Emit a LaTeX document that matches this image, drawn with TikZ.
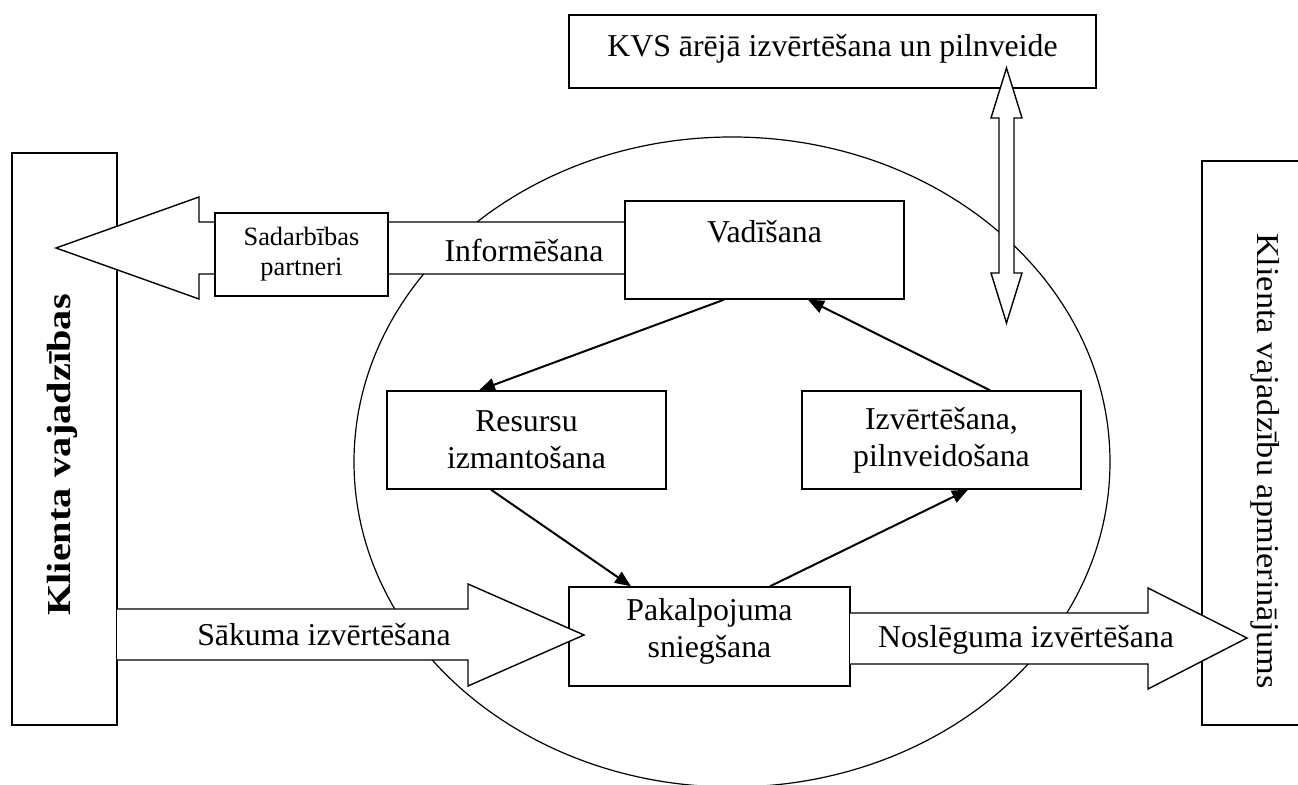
\documentclass[tikz,border=0pt]{standalone}
\usepackage{fontspec}
\setmainfont{Liberation Serif}
\usetikzlibrary{calc,arrows.meta}
\begin{document}
\begin{tikzpicture}[x=0.5pt,y=-0.5pt,
  box/.style={draw,line width=0.7pt,fill=white,inner sep=0pt,align=center,
    font=\fontsize{15.9pt}{18.5pt}\selectfont},
  smallbox/.style={box,font=\fontsize{13.2pt}{15pt}\selectfont},
  blk/.style={draw,line width=0.7pt,fill=white,line join=miter},
  conn/.style={line width=1pt,-{Triangle[length=8pt,width=6.5pt]}},
  lbl/.style={inner sep=0pt,align=center,font=\fontsize{15.9pt}{18.5pt}\selectfont}]
\useasboundingbox (0,0) rectangle (1298,785);
\clip (0,0) rectangle (1298,785);
% big ellipse
\draw[line width=0.6pt] (732,462) ellipse [x radius=378, y radius=325];
% side boxes
\node[box,minimum width=52.5pt,minimum height=286pt] (lb) at (64.5,439) {};
\node[box,minimum width=60pt,minimum height=282pt] (rb) at (1262,443) {};
\node[lbl,rotate=90,font=\fontsize{16.8pt}{19pt}\selectfont\bfseries] (lbt) at (62,455) {\scalebox{1.2}[1]{Klienta vajadzības}};
\node[lbl,rotate=-90] (rbt) at (1265,461) {\scalebox{1.08}[1]{Klienta vajadzību apmierinājums}};
% KVS box
\node[box,minimum width=263.5pt,minimum height=36.5pt] (kvs) at (832.5,51.5) {};
\node[lbl] (kvst) at ($(kvs)+(0,-3)$) {KVS ārējā izvērtēšana un pilnveide};
% Sadarbibas arrow
\draw[blk] (625,222) -- (199,222) -- (199,197) -- (56,248) -- (199,299) -- (199,274) -- (625,274);
\node[lbl] (inf) at (524,250) {Informēšana};
% Vadisana
\node[box,minimum width=139.5pt,minimum height=49pt] (vad) at (764.5,250) {};
\node[lbl] (vadt) at ($(vad)+(0,-18)$) {Vadīšana};
\node[smallbox,minimum width=86.5pt,minimum height=41.5pt] (sad) at (301.5,254.5) {Sadarbības\\partneri};
% double arrow
\draw[blk] (1006.5,68) -- (1022,118) -- (1014,118) -- (1014,273) -- (1022,273) -- (1006.5,323)
  -- (991,273) -- (999,273) -- (999,118) -- (991,118) -- cycle;
% Pakalpojuma
\node[box,minimum width=140.5pt,minimum height=49.5pt] (pak) at (709.5,636.5) {};
\node[lbl] (pakt) at ($(pak)+(0,-5)$) {Pakalpojuma\\sniegšana};
\draw[blk] (117,609) -- (468,609) -- (468,584) -- (584,635) -- (468,686) -- (468,660) -- (117,660);
\node[lbl] (sak) at (324,635) {Sākuma izvērtēšana};
\draw[blk] (850,613) -- (1148,613) -- (1148,588) -- (1247,638) -- (1148,689) -- (1148,664) -- (850,664);
\node[lbl] (nos) at (1026,640) {Noslēguma izvērtēšana};
% Resursu, Izvertesana
\node[box,minimum width=139.5pt,minimum height=49pt] (res) at (526.5,440) {Resursu\\izmantošana};
\node[box,minimum width=139.5pt,minimum height=49pt] (izv) at (941.5,440) {Izvērtēšana,\\pilnveidošana};
% connectors
\draw[conn] ($(vad.south)+(-40.5,0)$) -- ($(res.north)+(-47.5,0)$);
\draw[conn] ($(izv.north)+(48.5,0)$) -- ($(vad.south)+(43.5,0)$);
\draw[conn] ($(res.south)+(-35.5,0)$) -- ($(pak.north)+(-78.5,0)$);
\draw[conn] ($(pak.north)+(60.5,0)$) -- ($(izv.south)+(26.5,0)$);
\end{tikzpicture}
\end{document}
